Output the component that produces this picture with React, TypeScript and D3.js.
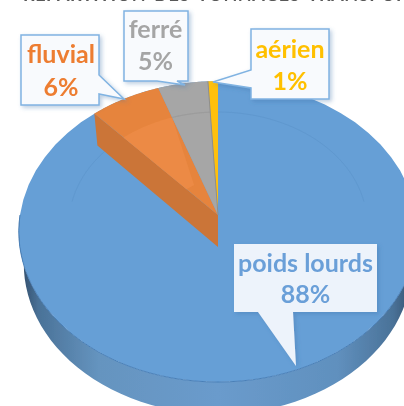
import React from "react";
import * as d3 from "d3";

const categories = ["poids lourds", "fluvial", "ferré", "aérien"];
// unrounded shares, labels round them
const values = [88.2, 6.4, 4.5, 0.9];
const sliceColors = ["#669FD6", "#E6843C", "#A6A6A6", "#FFC010"];
const labelColors = ["#6A9FD8", "#ED7D31", "#A5A5A5", "#FFC000"];
const title = "RÉPARTITION DES TONNAGES TRANSPORTÉS";

const width = 404;
const height = 406;

// fake 3d: a flat disc seen in perspective
const cx = 218;
const cy = 215;
const radius = 198;
const tilt = 125;
const persp = 0.11;
const depth = 32;

const project = (angle: number, r = 1, drop = 0): [number, number] => {
  const u = Math.sin(angle) * r;
  const v = Math.cos(angle) * r;
  const w = 1 + persp * v;
  const s = drop ? 0.975 : 1;
  return [cx + (radius * u * s) / w, (cy - tilt * v) / w + drop];
};

const line = d3.line();
const arcPts = (a0: number, a1: number, r = 1, drop = 0) =>
  d3.range(0, 61).map((i) => project(a0 + ((a1 - a0) * i) / 60, r, drop));

const slices = d3.pie<number>().sort(null)(values);

const wedge = (a0: number, a1: number) =>
  line([project(0, 0), ...arcPts(a0, a1)]) + "Z";

const calloutPaths = [
  "M234 244H377V312H293L296 366L258 312H234Z",
  "M21 35H99V75L124 99L99 94V105H21Z",
  "M124 11H188V81H177L185 85L157 81H124Z",
  "M251 29H329V99H251V88L213 82L251 70Z",
];
const labelPos = [
  { x: 305.5, y1: 272, y2: 303 },
  { x: 61, y1: 63, y2: 96 },
  { x: 155.5, y1: 38, y2: 70 },
  { x: 290, y1: 58, y2: 90 },
];

const wallStops: [number, string][] = [
  [0, "#2F4A66"],
  [0.05, "#4A7298"],
  [0.2, "#6594BF"],
  [0.5, "#6A9BCC"],
  [0.8, "#6090BE"],
  [0.94, "#4A7298"],
  [1, "#2F4A66"],
];

export default function App() {
  const fluvial = slices[1];
  const ferre = slices[2];
  const aerien = slices[3];
  const a0 = fluvial.startAngle - Math.PI * 2;
  const a1 = fluvial.endAngle - Math.PI * 2;
  const apex = project(0, 0);
  const apexLow = project(0, 0, depth);

  return (
    <svg
      width={width}
      height={height}
      viewBox={`0 0 ${width} ${height}`}
      style={{ position: "fixed", left: 0, top: 0, background: "#fff" }}
      fontFamily="Lato, sans-serif"
    >
      <defs>
        <linearGradient id="wall" x1="19" x2="417" y1="0" y2="0" gradientUnits="userSpaceOnUse">
          {wallStops.map(([o, c]) => (
            <stop key={o} offset={o} stopColor={c} />
          ))}
        </linearGradient>
        <filter id="soft" x="-5%" y="-5%" width="110%" height="110%">
          <feGaussianBlur stdDeviation="0.5" />
        </filter>
        <filter id="shadow" x="-20%" y="-20%" width="140%" height="140%">
          <feDropShadow dx="2" dy="2" stdDeviation="2" floodColor="#3A6EA5" floodOpacity="0.35" />
        </filter>
      </defs>

      <text
        x={23}
        y={0.8}
        fontSize={18}
        fontWeight={700}
        letterSpacing={0.6}
        wordSpacing={3}
        fill="#595959"
        filter="url(#soft)"
      >
        {title}
      </text>

      <g filter="url(#soft)">
        {/* outer wall */}
        <path
          d={
            line([
              ...arcPts(Math.PI * 0.5, Math.PI * 1.5, 1),
              ...arcPts(Math.PI * 1.5, Math.PI * 0.5, 1, depth),
            ])! + "Z"
          }
          fill="url(#wall)"
        />

        {/* top faces */}
        <path d={wedge(0, Math.PI * 2)} fill={sliceColors[0]} />
        <path
          d={line(arcPts(Math.PI * 0.5, Math.PI * 1.5))!}
          fill="none"
          stroke="#4A80B8"
          strokeWidth={1}
        />
        <path
          d={line(arcPts(-1.45, 1.45, 0.75))!}
          fill="none"
          stroke="#6098CF"
          strokeWidth={1}
        />

        {/* fluvial pulled out, its side lies on the blue face */}
        <path
          d={line([project(a0), apex, apexLow, project(a0, 1, depth)])! + "Z"}
          fill="#CB7537"
        />
        <path d={wedge(a0, a1)} fill={sliceColors[1]} />
        <path
          d={
            line([
              ...arcPts(a0, a1, 0.75),
              project((a0 + a1) / 2, 0.24),
              project(a0, 0.24),
            ])! + "Z"
          }
          fill="#EC8A45"
        />

        <path d={wedge(ferre.startAngle, ferre.endAngle)} fill={sliceColors[2]} />
        <path
          d={line(arcPts(ferre.startAngle, ferre.endAngle, 0.75))!}
          fill="none"
          stroke="#999"
          strokeWidth={1}
        />
        <path d={wedge(aerien.startAngle, aerien.endAngle)} fill={sliceColors[3]} />
        <path
          d={line([project(aerien.startAngle), apex])!}
          stroke="#8E8E8E"
          strokeWidth={1}
          fill="none"
        />
      </g>

      {categories.map((c, i) => (
        <g key={c}>
          <path
            d={calloutPaths[i]}
            fill={i === 0 ? "#EDF3FB" : "#F8FAFD"}
            stroke={i === 0 ? "none" : "#80B3E2"}
            strokeWidth={1.5}
            filter="url(#shadow)"
          />
          <g
            textAnchor="middle"
            fontWeight={700}
            fontSize={25}
            fill={labelColors[i]}
            style={{ filter: "blur(0.3px)" }}
          >
            <text x={labelPos[i].x} y={labelPos[i].y1}>{c}</text>
            <text x={labelPos[i].x} y={labelPos[i].y2}>{Math.round(values[i])}%</text>
          </g>
        </g>
      ))}
    </svg>
  );
}
